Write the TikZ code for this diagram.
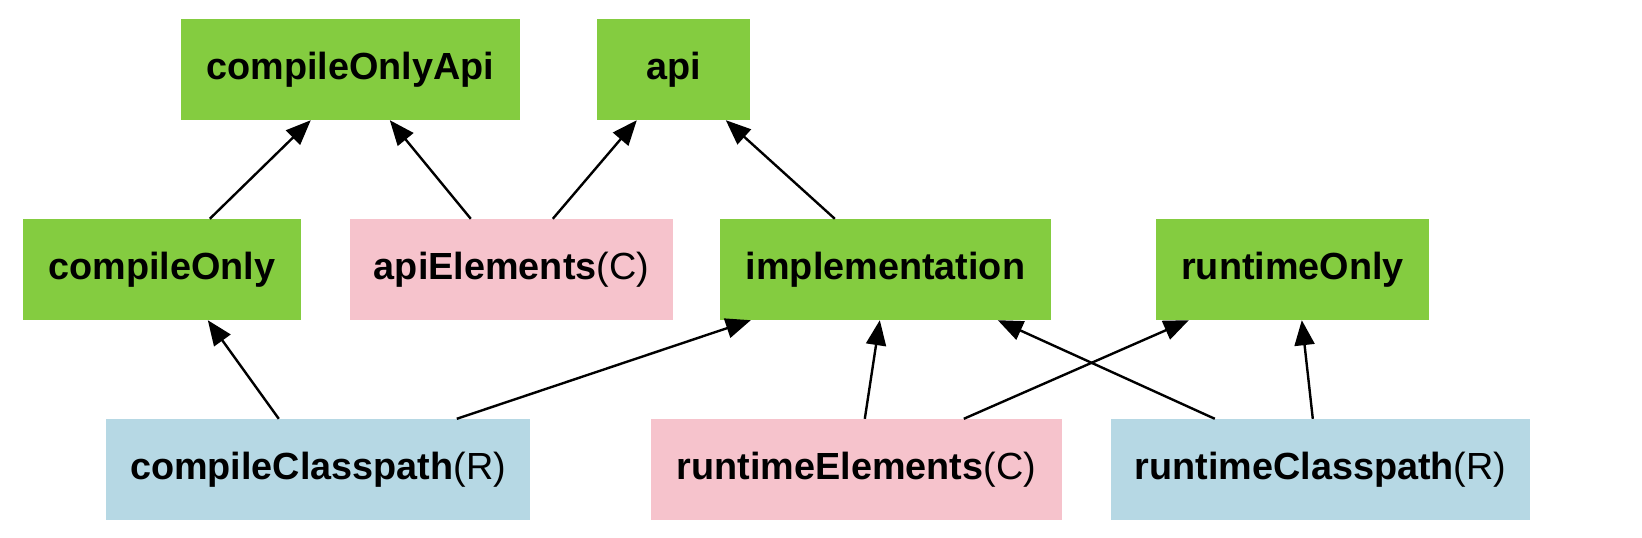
\documentclass[tikz,border=0pt]{standalone}
\usepackage{fontspec}
\setmainfont{Liberation Sans}
\usetikzlibrary{arrows.meta}
\definecolor{cgreen}{RGB}{132,204,64}
\definecolor{cpink}{RGB}{246,195,204}
\definecolor{cblue}{RGB}{182,216,228}
\begin{document}
\begin{tikzpicture}[x=1bp,y=-1bp,
  box/.style={rectangle,inner sep=0pt,minimum height=101bp,font=\fontsize{37.8bp}{40bp}\selectfont},
  gbox/.style={box,fill=cgreen},
  pbox/.style={box,fill=cpink},
  bbox/.style={box,fill=cblue},
  edge/.style={line width=2.4bp,-{Triangle[length=25bp,width=20bp]},shorten >=0pt}]
\useasboundingbox[fill=white] (0,0) rectangle (1642,538);
\node[gbox,minimum width=339bp] (coa) at (350.5,69.5) {\textbf{compileOnlyApi}};
\node[gbox,minimum width=153bp] (api) at (673.5,69.5) {\textbf{api}};
\node[gbox,minimum width=278bp] (co) at (162,269.5) {\textbf{compileOnly}};
\node[pbox,minimum width=323bp] (ae) at (511.5,269.5) {\textbf{apiElements}(C)};
\node[gbox,minimum width=331bp] (impl) at (885.5,269.5) {\textbf{implementation}};
\node[gbox,minimum width=273bp] (ro) at (1292.5,269.5) {\textbf{runtimeOnly}};
\node[bbox,minimum width=424bp] (cc) at (318,469.5) {\textbf{compileClasspath}(R)};
\node[pbox,minimum width=411bp] (re) at (856.5,469.5) {\textbf{runtimeElements}(C)};
\node[bbox,minimum width=419bp] (rc) at (1320.5,469.5) {\textbf{runtimeClasspath}(R)};
\draw[edge] ([xshift=187bp]co.north west) -- ([xshift=130bp]coa.south west);
\draw[edge] ([xshift=121bp]ae.north west) -- ([xshift=209bp]coa.south west);
\draw[edge] ([xshift=203bp]ae.north west) -- ([xshift=40bp]api.south west);
\draw[edge] ([xshift=115bp]impl.north west) -- ([xshift=129bp]api.south west);
\draw[edge] ([xshift=173bp]cc.north west) -- ([xshift=185bp]co.south west);
\draw[edge] ([xshift=351bp]cc.north west) -- ([xshift=31bp]impl.south west);
\draw[edge] ([xshift=214bp]re.north west) -- ([xshift=160bp]impl.south west);
\draw[edge] ([xshift=313bp]re.north west) -- ([xshift=33bp]ro.south west);
\draw[edge] ([xshift=104bp]rc.north west) -- ([xshift=278bp]impl.south west);
\draw[edge] ([xshift=202bp]rc.north west) -- ([xshift=146bp]ro.south west);
\end{tikzpicture}
\end{document}
